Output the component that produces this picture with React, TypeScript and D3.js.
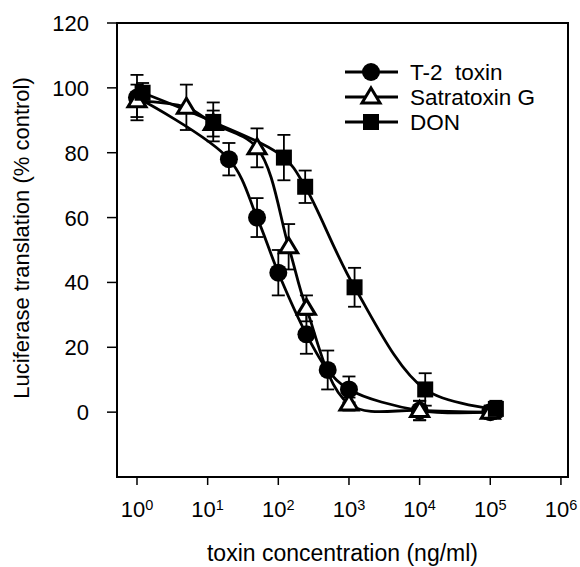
import React from "react";
import * as d3 from "d3";

// ---- data ----
const t2Conc = [1, 20, 50, 100, 250, 500, 1000, 10000, 100000];
const t2Mean = [97, 78, 60, 43, 24, 13, 7, 0.5, 0];
const t2Err = [7, 5, 6, 7, 6, 6, 4, 3, 2];

const satConc = [1, 5, 12, 50, 140, 250, 1000, 10000, 100000];
const satMean = [96, 94, 89, 81.5, 51, 32, 2.5, 0.5, 0];
const satErr = [5, 7, 4, 6, 7, 4, 2, 3, 2];

const donConc = [1.2, 12, 120, 240, 1200, 12000, 120000];
const donMean = [98.5, 89.5, 78.5, 69.5, 38.5, 7, 1];
const donErr = [3, 6, 7, 5, 6, 5, 2.5];

const seriesNames = ["T-2  toxin", "Satratoxin G", "DON"];
const xTickExps = [0, 1, 2, 3, 4, 5, 6];
const yTicks = [0, 20, 40, 60, 80, 100, 120];

const W = 580;
const H = 567;
const M = { left: 117, top: 23, right: 12, bottom: 90 };
const FONT = "'Liberation Sans', Arial, Helvetica, sans-serif";

type Pt = { x: number; y: number; e: number };
const zip = (xs: number[], ys: number[], es: number[]): Pt[] =>
  xs.map((x, i) => ({ x, y: ys[i], e: es[i] }));

const series = [
  { name: seriesNames[0], shape: "circle", pts: zip(t2Conc, t2Mean, t2Err) },
  { name: seriesNames[1], shape: "triangle", pts: zip(satConc, satMean, satErr) },
  { name: seriesNames[2], shape: "square", pts: zip(donConc, donMean, donErr) },
];

function Marker({ shape, cx, cy }: { shape: string; cx: number; cy: number }) {
  if (shape === "circle")
    return <circle cx={cx} cy={cy} r={9} fill="#000" />;
  if (shape === "square")
    return <rect x={cx - 8} y={cy - 8} width={16} height={16} fill="#000" />;
  const s = 8;
  const p = `${cx},${cy - s - 1} ${cx + s + 1},${cy + s * 0.75} ${cx - s - 1},${cy + s * 0.75}`;
  return <polygon points={p} fill="#fff" stroke="#000" strokeWidth={3} strokeLinejoin="miter" />;
}

export default function App() {
  const x = d3
    .scaleLog()
    .domain([Math.pow(10, -0.283), Math.pow(10, 6.1)])
    .range([M.left, W - M.right]);
  const y = d3.scaleLinear().domain([-20, 120]).range([H - M.bottom, M.top]);

  const line = d3
    .line<Pt>()
    .x((d) => x(d.x))
    .y((d) => y(d.y))
    .curve(d3.curveCatmullRom.alpha(0.5));

  const x0 = M.left;
  const x1 = W - M.right;
  const y0 = H - M.bottom;
  const y1 = M.top;

  const legendY = [72, 97, 122];

  return (
    <div>
      <style>{`body{margin:0;background:#fff}`}</style>
      <svg width={W} height={H} style={{ display: "block", fontFamily: FONT }}>
        <rect width={W} height={H} fill="#fff" />
        {/* frame */}
        <rect x={x0} y={y1} width={x1 - x0} height={y0 - y1} fill="none" stroke="#000" strokeWidth={2} />
        {/* y ticks */}
        {yTicks.map((t) => (
          <g key={"y" + t}>
            <line x1={x0 - 10} x2={x0} y1={y(t)} y2={y(t)} stroke="#000" strokeWidth={1.5} />
            <text x={x0 - 28} y={y(t) + 8} textAnchor="end" fontSize={22} fill="#000">
              {t}
            </text>
          </g>
        ))}
        {/* x ticks */}
        {xTickExps.map((e) => {
          const px = x(Math.pow(10, e));
          return (
            <g key={"x" + e}>
              <line x1={px} x2={px} y1={y0} y2={y0 + 8} stroke="#000" strokeWidth={1.5} />
              <text x={px} y={517} textAnchor="middle" fontSize={22} fill="#000">
                10
                <tspan fontSize={14.5} dy={-7.5}>
                  {e}
                </tspan>
              </text>
            </g>
          );
        })}
        {/* axis titles */}
        <text x={(x0 + x1) / 2} y={561} textAnchor="middle" fontSize={23} fill="#000">
          toxin concentration (ng/ml)
        </text>
        <text
          transform={`translate(29,238) rotate(-90)`}
          textAnchor="middle"
          fontSize={22}
          fill="#000"
        >
          Luciferase translation (% control)
        </text>
        {/* curves */}
        {series.map((s) => (
          <path key={"c" + s.name} d={line(s.pts) || ""} fill="none" stroke="#000" strokeWidth={2.8} />
        ))}
        {/* error bars */}
        {series.map((s) =>
          s.pts.map((p, i) => {
            const px = x(p.x);
            const ya = y(p.y + p.e);
            const yb = y(p.y - p.e);
            return (
              <g key={"e" + s.name + i} stroke="#000" strokeWidth={1.8}>
                <line x1={px} x2={px} y1={ya} y2={yb} />
                <line x1={px - 6.5} x2={px + 6.5} y1={ya} y2={ya} />
                <line x1={px - 6.5} x2={px + 6.5} y1={yb} y2={yb} />
              </g>
            );
          })
        )}
        {/* markers */}
        {series.map((s) =>
          s.pts.map((p, i) => <Marker key={"m" + s.name + i} shape={s.shape} cx={x(p.x)} cy={y(p.y)} />)
        )}
        {/* legend */}
        {series.map((s, i) => (
          <g key={"l" + s.name}>
            <line x1={345} x2={398} y1={legendY[i]} y2={legendY[i]} stroke="#000" strokeWidth={2.8} />
            <Marker shape={s.shape} cx={371} cy={legendY[i]} />
            <text x={410} y={legendY[i] + 8} fontSize={22.5} fill="#000" style={{ whiteSpace: "pre" }}>
              {s.name}
            </text>
          </g>
        ))}
      </svg>
    </div>
  );
}
